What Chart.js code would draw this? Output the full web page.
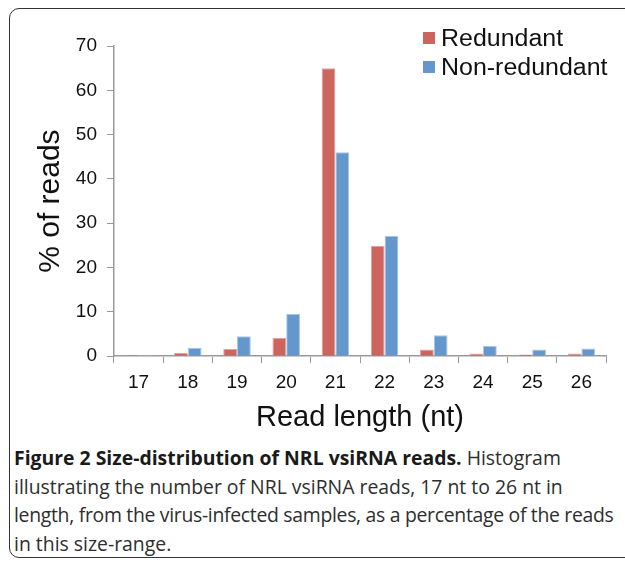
<!DOCTYPE html>
<html>
<head>
<meta charset="utf-8">
<script src="https://cdn.jsdelivr.net/npm/chart.js@4/dist/chart.umd.min.js"></script>
<style>
  html, body { margin: 0; padding: 0; background: #fff; }
  body { width: 625px; height: 562px; position: relative; overflow: hidden; }
  #frame { position: absolute; left: 9px; top: 8px; width: 640px; height: 550px;
           border: 1.5px solid #333; border-radius: 10px; box-sizing: border-box; }
  #wrap { position: absolute; left: 0; top: 0; width: 625px; height: 437px; }
  #legend { position: absolute; left: 423px; top: 24px; font-family: "Liberation Sans", Arial, sans-serif;
            font-size: 23px; color: #111; }
  #legend .row { height: 28.5px; line-height: 28.5px; white-space: nowrap; display: flex; align-items: center; }
  #legend .sw { width: 12px; height: 12px; display: inline-block; margin-right: 6px; }
  #legend .tx { display: inline-block; transform: scaleX(1.085); transform-origin: left center; }
  #caption { position: absolute; left: 14px; top: 444px; width: 640px; font-family: "Open Sans", sans-serif;
             font-size: 19.4px; line-height: 28.5px; color: #2e2e2e; }
  #caption div { white-space: nowrap; }
  #caption .tight { letter-spacing: -0.3px; }
  #caption b { color: #1a1a1a; }
</style>
</head>
<body>
<div id="frame"></div>
<div id="wrap"><canvas id="c" width="625" height="437"></canvas></div>
<div id="legend"></div>
<div id="caption">
  <div><b>Figure 2 Size-distribution of NRL vsiRNA reads.</b> Histogram</div>
  <div>illustrating the number of NRL vsiRNA reads, 17 nt to 26 nt in</div>
  <div class="tight">length, from the virus-infected samples, as a percentage of the reads</div>
  <div>in this size-range.</div>
</div>
<script>
const categories = ["17", "18", "19", "20", "21", "22", "23", "24", "25", "26"];
const redundant = [0.05, 0.7, 1.6, 4.1, 65.0, 24.9, 1.5, 0.6, 0.4, 0.6];
const nonRedundant = [0.25, 1.9, 4.5, 9.6, 46.0, 27.2, 4.7, 2.3, 1.5, 1.75];
const seriesNames = ["Redundant", "Non-redundant"];
const yTicks = [0, 10, 20, 30, 40, 50, 60, 70];
const xTitle = "Read length (nt)";
const yTitle = "% of reads";

const colors = ["#CC655E", "#6498CC"];
const borders = ["#E3A29D", "#A9C6E6"];
const font = "'Liberation Sans', Arial, sans-serif";

const chart = new Chart(document.getElementById('c'), {
  type: 'bar',
  data: {
    labels: categories,
    datasets: [
      { label: seriesNames[0], data: redundant, backgroundColor: colors[0], borderColor: borders[0],
        borderWidth: { top: 1, left: 1, right: 1, bottom: 0 }, borderSkipped: 'bottom' },
      { label: seriesNames[1], data: nonRedundant, backgroundColor: colors[1], borderColor: borders[1],
        borderWidth: { top: 1, left: 1, right: 1, bottom: 0 }, borderSkipped: 'bottom' }
    ]
  },
  options: {
    responsive: false,
    animation: false,
    events: [],
    layout: { padding: { left: 20, right: 19, top: 46, bottom: 3 } },
    plugins: { legend: { display: false }, tooltip: { enabled: false } },
    datasets: { bar: { categoryPercentage: 0.56, barPercentage: 1.0 } },
    scales: {
      x: {
        grid: { display: true, drawOnChartArea: false, drawTicks: true, tickLength: 7, color: '#999', offset: true },
        border: { display: true, color: '#999', width: 1.5 },
        ticks: { color: '#111', font: { family: font, size: 19 }, padding: 8 },
        title: { display: true, text: xTitle, color: '#111', font: { family: font, size: 29, lineHeight: 1.0 }, padding: { top: 1, bottom: 2 } }
      },
      y: {
        min: 0, max: 70,
        afterBuildTicks: (s) => { s.ticks = yTicks.map(v => ({ value: v })); },
        afterFit: (s) => { s.width = 94; },
        grid: { display: true, drawOnChartArea: false, drawTicks: true, tickLength: 7, color: '#999' },
        border: { display: true, color: '#999', width: 1.5 },
        ticks: { color: '#111', font: { family: font, size: 19 }, padding: 10 },
        title: { display: true, text: yTitle, color: '#111', font: { family: font, size: 30 }, padding: { top: 13, bottom: 4 } }
      }
    }
  }
});

const leg = document.getElementById('legend');
chart.data.datasets.forEach(ds => {
  const row = document.createElement('div');
  row.className = 'row';
  const sw = document.createElement('span');
  sw.className = 'sw';
  sw.style.background = ds.backgroundColor;
  const t = document.createElement('span');
  t.className = 'tx';
  t.textContent = ds.label;
  row.appendChild(sw); row.appendChild(t);
  leg.appendChild(row);
});
</script>
</body>
</html>
